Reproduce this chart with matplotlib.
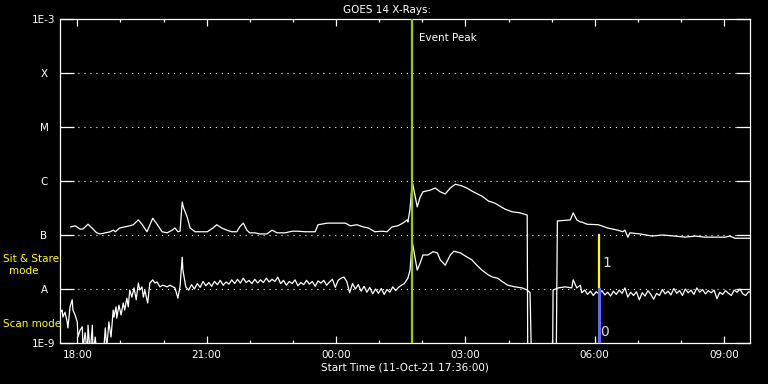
import numpy as np
import matplotlib
matplotlib.use('Agg')
import matplotlib.pyplot as plt

# times: minutes after 11-Oct-21 17:36:00, values: log10 of flux (W/m^2)
t_long = [15, 21, 28, 32, 39, 46, 51, 56, 63, 70, 74, 77, 83, 90, 97, 102, 109, 114, 121, 129,
          135, 142, 149, 156, 160, 164, 167, 170, 172, 177, 181, 188, 195, 205, 213, 218, 225, 232,
          239, 246, 250, 255, 260, 264, 271, 278, 288, 295, 302, 313, 323, 331, 341, 355, 359, 372,
          390, 397, 404, 413, 422, 429, 438, 448, 455, 462, 470, 477, 483, 484, 487, 490, 491, 497,
          501, 505, 515, 522, 529, 536, 543, 550, 559, 566, 575, 587, 596, 605, 619, 629, 640, 650,
          651, 690, 692, 710, 714, 719, 724, 726, 733, 749, 762, 776, 783, 786, 790, 793, 807, 824,
          838, 856, 870, 884, 897, 911, 925, 932, 939, 949, 960]
log_long = [-6.85, -6.83, -6.89, -6.89, -6.80, -6.89, -6.96, -6.98, -6.96, -6.94, -6.91, -6.94,
            -6.87, -6.85, -6.83, -6.81, -6.72, -6.80, -6.94, -6.69, -6.80, -6.94, -6.96, -6.91,
            -6.87, -6.94, -6.93, -6.39, -6.50, -6.67, -6.87, -6.94, -6.94, -6.94, -6.87, -6.81,
            -6.87, -6.91, -6.94, -6.94, -6.85, -6.78, -6.91, -6.96, -6.96, -6.98, -6.98, -6.91,
            -6.96, -6.96, -6.93, -6.93, -6.94, -6.94, -6.81, -6.78, -6.78, -6.78, -6.83, -6.81,
            -6.85, -6.87, -6.94, -6.93, -6.94, -6.85, -6.83, -6.78, -6.72, -6.76, -6.52, -6.02,
            -6.07, -6.48, -6.30, -6.20, -6.17, -6.13, -6.20, -6.24, -6.13, -6.06, -6.09, -6.13,
            -6.20, -6.28, -6.37, -6.41, -6.52, -6.57, -6.59, -6.63, -10.0, -10.0, -6.74, -6.72,
            -6.59, -6.72, -6.76, -6.76, -6.80, -6.81, -6.87, -6.91, -6.94, -6.91, -7.04, -6.96,
            -6.98, -7.02, -7.00, -7.02, -7.04, -7.02, -7.04, -7.04, -7.04, -7.02, -7.06, -7.06,
            -7.06]

# short channel, read in pieces: scan-mode start, quiet night, flare + eclipse, morning
t_short_a = [0, 3, 4, 7, 10, 11, 14, 17, 18, 21, 24, 25, 28, 31, 32, 35, 38, 39, 42, 45,
             46, 49, 52, 60, 63, 65, 68, 71, 74, 75, 78, 79, 82, 85, 88, 90, 93, 95, 97, 100,
             103, 106, 109, 111, 114, 116, 118, 122, 125, 129, 132, 135, 139, 143, 149, 153, 160,
             164, 167, 170, 171]
log_short_a = [-8.44, -8.39, -8.52, -8.43, -8.61, -8.72, -8.33, -8.20, -8.39, -8.48,
               -8.61, -8.89, -8.76, -8.70, -9.10, -8.81, -9.20, -8.67, -9.20, -8.67,
               -9.20, -8.89, -9.30, -9.30, -8.72, -9.10, -8.61, -8.89, -8.39, -8.52,
               -8.33, -8.54, -8.30, -8.48, -8.26, -8.39, -8.17, -8.33, -8.02, -8.15,
               -7.98, -8.20, -7.89, -8.02, -7.96, -8.15, -8.02, -8.26, -7.89, -7.83,
               -7.89, -7.87, -7.96, -7.93, -7.96, -7.93, -7.98, -8.17, -7.96, -7.41, -7.65]

t_short_b = [175, 179, 183, 187, 191, 195, 199, 203, 207, 211, 215, 219, 223, 227, 231, 235,
             239, 243, 247, 251, 255, 259, 263, 267, 271, 275, 279, 283, 287, 291, 295, 299,
             303, 307, 311, 315, 319, 323, 327, 331, 335, 339, 343, 347, 351, 355, 359, 363,
             367, 371, 375, 379, 383, 387, 391, 395, 399, 403, 407, 411, 415, 419, 423, 427,
             431, 435, 439, 443, 447, 451, 455, 459, 463, 467, 471, 475, 479]
log_short_b = [-7.96, -8.02, -7.92, -8.00, -7.90, -7.97, -7.86, -7.94, -7.88, -7.95, -7.86,
               -7.92, -7.84, -7.93, -7.87, -7.91, -7.83, -7.90, -7.82, -7.89, -7.80, -7.88,
               -7.84, -7.90, -7.82, -7.89, -7.83, -7.88, -7.80, -7.87, -7.82, -7.86, -7.78,
               -7.90, -7.84, -7.93, -7.86, -7.90, -7.83, -7.94, -7.88, -7.92, -7.84, -7.91,
               -7.86, -7.95, -7.85, -7.89, -7.84, -7.93, -7.87, -7.82, -7.97, -7.84, -7.80,
               -7.78, -7.86, -8.07, -7.90, -8.00, -7.92, -8.04, -7.95, -8.06, -7.97, -8.09,
               -8.00, -8.08, -7.99, -8.10, -8.01, -8.06, -7.96, -8.03, -7.97, -7.93, -7.90]

t_short_c = [484, 487, 490, 491, 497, 501, 505, 512, 519, 525, 529, 536, 543, 548, 557, 564,
             573, 580, 587, 596, 602, 609, 616, 623, 633, 643, 650, 654, 657, 685, 686, 693,
             703, 712, 714, 719, 724]
log_short_c = [-7.80, -7.65, -7.13, -7.19, -7.65, -7.52, -7.37, -7.37, -7.31, -7.33, -7.46,
               -7.56, -7.37, -7.30, -7.33, -7.39, -7.46, -7.56, -7.65, -7.74, -7.78, -7.80,
               -7.87, -7.93, -7.96, -7.98, -8.02, -8.07, -10.0, -10.0, -8.02, -7.98, -7.96,
               -7.98, -7.83, -7.98, -7.93]

t_short_d = [726, 730, 734, 738, 742, 746, 750, 754, 758, 762, 766, 770, 774, 778, 782, 786,
             790, 794, 798, 802, 806, 810, 814, 818, 822, 826, 830, 834, 838, 842, 846, 850,
             854, 858, 862, 866, 870, 874, 878, 882, 886, 890, 894, 898, 902, 906, 910, 914,
             918, 922, 926, 930, 934, 938, 942, 946, 950, 954, 958, 960]
log_short_d = [-8.07, -8.02, -8.10, -8.04, -8.12, -8.05, -8.09, -8.03, -8.11, -8.06, -8.13,
               -8.04, -8.10, -8.02, -8.08, -7.98, -8.15, -8.06, -8.12, -8.05, -8.20, -8.07,
               -8.13, -8.03, -8.10, -8.19, -8.08, -8.12, -8.01, -8.09, -8.04, -8.11, -7.99,
               -8.08, -8.03, -8.12, -8.00, -8.07, -8.02, -8.10, -7.98, -8.06, -8.01, -8.09,
               -8.03, -8.07, -8.02, -8.18, -8.06, -8.10, -8.03, -8.08, -8.12, -8.02, -8.06,
               -8.00, -8.09, -8.12, -8.05, -8.06]

class_levels = [1e-9, 1e-8, 1e-7, 1e-6, 1e-5, 1e-4, 1e-3]
class_labels = ['1E-9', 'A', 'B', 'C', 'M', 'X', '1E-3']
major_times = [24, 204, 384, 564, 744, 924]
major_labels = ['18:00', '21:00', '00:00', '03:00', '06:00', '09:00']
minor_times = [84, 144, 264, 324, 444, 504, 624, 684, 804, 864]
event_peak = 490
mode_switch = 750

t_short = t_short_a + t_short_b + t_short_c + t_short_d
log_short = log_short_a + log_short_b + log_short_c + log_short_d

plt.rcParams['lines.scale_dashes'] = False
fig = plt.figure(figsize=(7.68, 3.84), dpi=100, facecolor='black')
ax = fig.add_axes([60 / 768, 41 / 384, 690 / 768, 324 / 384], facecolor='black')

ax.set_yscale('log')
ax.set_xlim(0, 960)
ax.set_ylim(1e-9, 1e-3)

# dotted class lines
for lev in class_levels[1:-1]:
    ax.axhline(lev, color='white', lw=0.8, dashes=(0.8, 3.5), zorder=1)

ax.plot(t_long, 10 ** np.array(log_long), color='white', lw=0.9, zorder=3)
ax.plot(t_short, 10 ** np.array(log_short), color='white', lw=0.9, zorder=3)

ax.axvline(event_peak, color='#99cc00', lw=1.6, zorder=4)
ax.text(event_peak + 9, 4.4e-4, 'Event Peak', color='white', fontsize=7.5, va='center')

ax.plot([mode_switch, mode_switch], [1e-8, 1e-7], color='#ffff00', lw=1.6, zorder=5)
ax.plot([mode_switch, mode_switch], [1e-9, 1e-8], color='#6666ff', lw=2.2, zorder=5)
ax.text(mode_switch + 4, 3.0e-8, '1', color='#dddddd', fontsize=10, va='center')
ax.text(mode_switch + 1, 1.6e-9, '0', color='#dddddd', fontsize=10, va='center')

for s in ax.spines.values():
    s.set_color('white')
    s.set_linewidth(0.9)

ax.set_yticks(class_levels)
ax.set_yticklabels(class_labels)
ax.minorticks_off()
ax.tick_params(axis='y', which='major', direction='in', length=10, width=0.9, color='white',
               left=True, right=True, labelcolor='white', labelsize=7.5, pad=11.5)
for lab in ax.get_yticklabels():
    lab.set_horizontalalignment('center')

ax.set_xticks(major_times)
ax.set_xticklabels(major_labels)
ax.set_xticks(minor_times, minor=True)
ax.tick_params(axis='x', which='major', direction='in', length=5, width=0.9, color='white',
               top=True, bottom=True, labelcolor='white', labelsize=7.5, pad=5)
ax.tick_params(axis='x', which='minor', direction='in', length=2.3, width=0.9, color='white',
               top=True, bottom=True)

fig.text(387 / 768, 1 - 10 / 384, 'GOES 14 X-Rays:', color='white', fontsize=7.5,
         ha='center', va='center')
fig.text(405 / 768, 1 - 368 / 384, 'Start Time (11-Oct-21 17:36:00)', color='white',
         fontsize=7.5, ha='center', va='center')
fig.text(3 / 768, 1 - 259 / 384, 'Sit & Stare', color='#ffff00', fontsize=7.5, va='center')
fig.text(24 / 768, 1 - 271 / 384, 'mode', color='#ffff00', fontsize=7.5, ha='center', va='center')
fig.text(3 / 768, 1 - 324 / 384, 'Scan mode', color='#ffff00', fontsize=7.5, va='center')

fig.savefig('out.png', dpi=100, facecolor='black')
